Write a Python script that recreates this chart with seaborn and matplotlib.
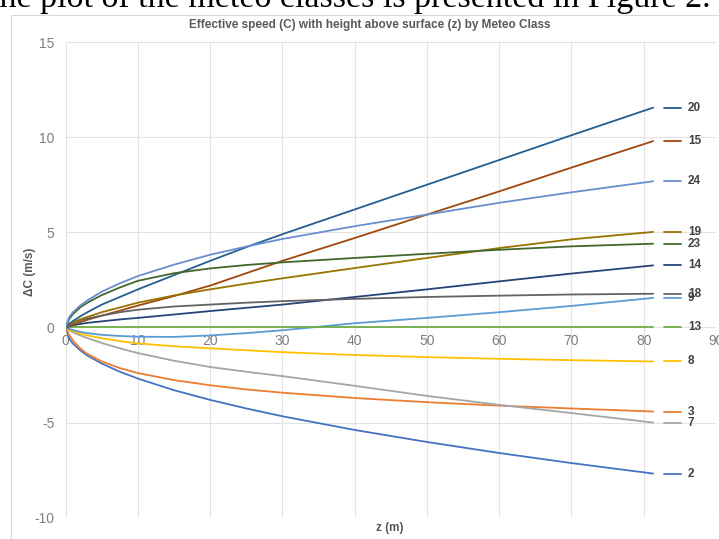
import pandas as pd
import seaborn as sns
import matplotlib.pyplot as plt
from matplotlib.patches import Rectangle

# height above surface (m)
z = [0, 0.5, 1, 2, 3, 5, 7.5, 10, 15, 20, 25, 30, 40, 50, 60, 70, 81.3]

# effective speed change per meteo class (m/s)
c2 = [0, -0.6, -0.85, -1.2, -1.48, -1.9, -2.33, -2.69, -3.3, -3.81, -4.26, -4.67, -5.39, -6.02, -6.6, -7.13, -7.68]
c3 = [0, -0.41, -0.69, -1.1, -1.39, -1.79, -2.14, -2.4, -2.77, -3.04, -3.26, -3.43, -3.71, -3.93, -4.11, -4.26, -4.42]
c7 = [0, -0.15, -0.25, -0.42, -0.56, -0.82, -1.1, -1.35, -1.75, -2.08, -2.33, -2.56, -3.07, -3.6, -4.07, -4.5, -5.0]
c8 = [0, -0.12, -0.2, -0.32, -0.42, -0.57, -0.72, -0.84, -0.99, -1.1, -1.2, -1.3, -1.45, -1.56, -1.65, -1.72, -1.79]
c9 = [0, -0.08, -0.14, -0.23, -0.3, -0.39, -0.45, -0.49, -0.5, -0.42, -0.3, -0.15, 0.22, 0.5, 0.8, 1.13, 1.55]
c13 = [0, 0, 0, 0, 0, 0, 0, 0, 0, 0, 0, 0, 0, 0, 0, 0, 0]
c14 = [0, 0.06, 0.11, 0.18, 0.24, 0.32, 0.42, 0.5, 0.68, 0.86, 1.03, 1.2, 1.6, 2.0, 2.42, 2.83, 3.26]
c15 = [0, 0.08, 0.15, 0.28, 0.4, 0.62, 0.88, 1.15, 1.65, 2.2, 2.85, 3.5, 4.7, 5.93, 7.15, 8.4, 9.79]
c18 = [0, 0.15, 0.25, 0.38, 0.47, 0.62, 0.8, 0.93, 1.1, 1.2, 1.3, 1.38, 1.5, 1.6, 1.67, 1.73, 1.77]
c19 = [0, 0.15, 0.25, 0.42, 0.55, 0.8, 1.05, 1.3, 1.68, 2.0, 2.3, 2.58, 3.12, 3.65, 4.17, 4.63, 5.02]
c20 = [0, 0.2, 0.33, 0.58, 0.8, 1.2, 1.6, 2.0, 2.75, 3.5, 4.22, 4.9, 6.2, 7.5, 8.8, 10.1, 11.55]
c23 = [0, 0.45, 0.7, 1.05, 1.3, 1.7, 2.1, 2.45, 2.85, 3.1, 3.28, 3.42, 3.65, 3.87, 4.08, 4.26, 4.4]
c24 = [0, 0.55, 0.8, 1.15, 1.42, 1.88, 2.32, 2.7, 3.3, 3.82, 4.25, 4.65, 5.32, 5.93, 6.55, 7.1, 7.68]

classes = ["2", "3", "7", "8", "9", "13", "14", "15", "18", "19", "20", "23", "24"]
series = [c2, c3, c7, c8, c9, c13, c14, c15, c18, c19, c20, c23, c24]
colors = ["#4472C4", "#ED7D31", "#A5A5A5", "#FFC000", "#5B9BD5", "#70AD47",
          "#264478", "#9E480E", "#636363", "#997300", "#255E91", "#43682B", "#698ED0"]
palette = dict(zip(classes, colors))

rows = []
for name, vals in zip(classes, series):
    for zz, v in zip(z, vals):
        rows.append({"z": zz, "dC": v, "cls": name})
df = pd.DataFrame(rows)

sns.set_theme(style="white")
plt.rcParams["font.family"] = ["Liberation Sans", "DejaVu Sans"]
plt.rcParams["axes.unicode_minus"] = False

fig = plt.figure(figsize=(7.19, 5.39), dpi=100)
ax = fig.add_axes([65.7 / 719, 21.3 / 539, 650.3 / 719, 475.7 / 539])

sns.lineplot(data=df, x="z", y="dC", hue="cls", hue_order=classes, palette=palette,
             estimator=None, sort=False, linewidth=1.3, legend=False, ax=ax)

# series name labels with a short key next to the last point
for name, vals in zip(classes, series):
    xe, ye = z[-1], vals[-1]
    ax.plot([xe + 1.5, xe + 3.8], [ye, ye], color=palette[name], lw=1.3, clip_on=False)
    ax.text(xe + 4.8, ye, name, color="#404040", fontsize=8.5, fontweight="bold",
            va="center", ha="left")

ax.set_xlim(0, 90)
ax.set_ylim(-10, 15)
ax.set_xticks(range(0, 91, 10))
ax.set_yticks(range(-10, 16, 5))
ax.grid(True, color="#e3e3e3", lw=0.8)
for s in ["top", "right", "left"]:
    ax.spines[s].set_visible(False)
ax.spines["bottom"].set_position(("data", 0))
ax.spines["bottom"].set_visible(False)
ax.tick_params(axis="both", length=0, labelsize=10, labelcolor="#7f7f7f")
ax.tick_params(axis="x", pad=5)
ax.tick_params(axis="y", pad=8)
ax.set_xlabel("")
ax.set_ylabel("")

fig.text(370 / 719, 1 - 25 / 539, "Effective speed (C) with height above surface (z) by Meteo Class",
         ha="center", va="center", fontsize=8.5, fontweight="bold", color="#595959")
fig.text(30 / 719, 1 - 272 / 539, "ΔC (m/s)", rotation=90, ha="center", va="center",
         fontsize=8.5, fontweight="bold", color="#595959")
fig.text(390 / 719, 1 - 528 / 539, "z (m)", ha="center", va="center",
         fontsize=8.5, fontweight="bold", color="#595959")

# chart area border and the document text above the chart
fig.patches.append(Rectangle((11 / 719, -0.1), 1.2, 1.1 - 15 / 539, transform=fig.transFigure,
                             fill=False, edgecolor="#d9d9d9", lw=0.8))
fig.text(711 / 719, 1 - 7 / 539, "the plot of the meteo classes is presented in Figure 2.",
         ha="right", va="baseline", fontsize=24.5, family="Liberation Serif", color="black")

fig.savefig("out.png", dpi=100)
